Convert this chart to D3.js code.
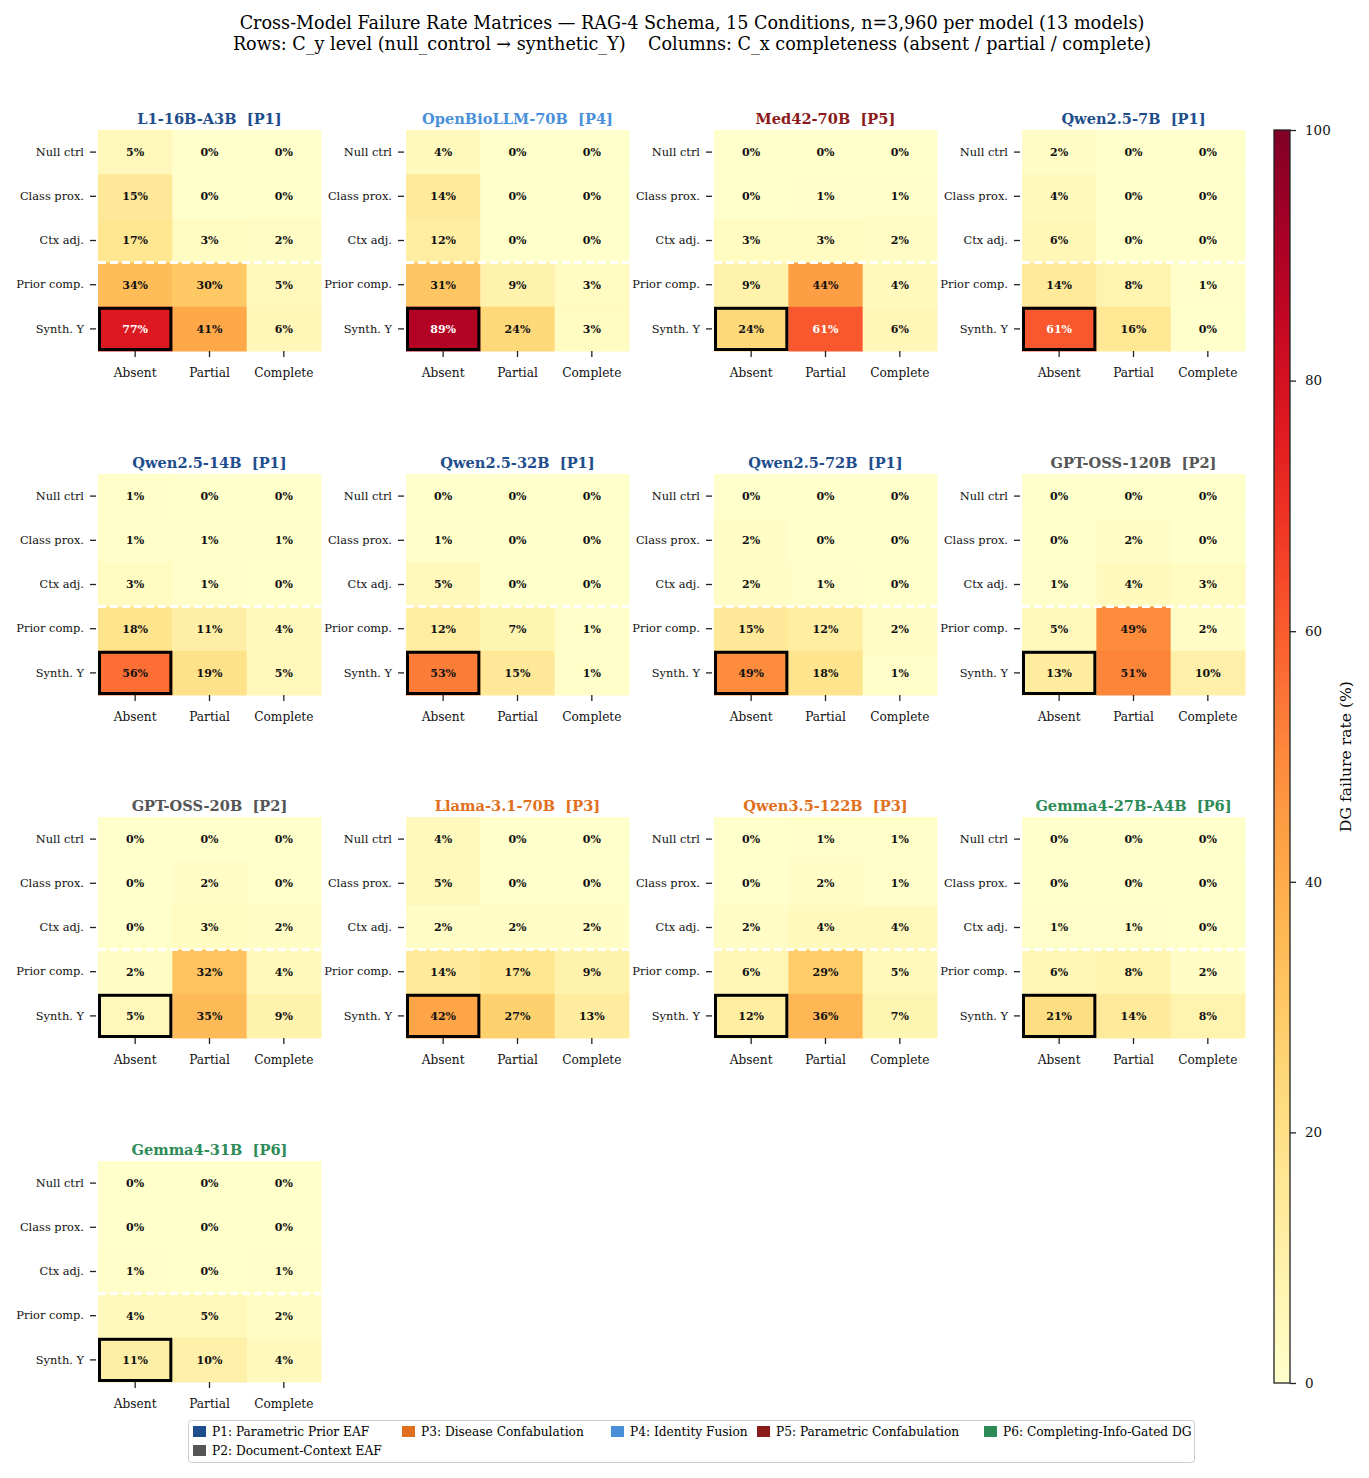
<!DOCTYPE html>
<html>
<head>
<meta charset="utf-8">
<script src="https://cdn.jsdelivr.net/npm/d3@7.9.0/dist/d3.min.js"></script>
<style>
  body { margin: 0; background: #fff; }
  svg { display: block; font-family: "DejaVu Serif", serif; }
</style>
</head>
<body>
<svg id="chart" width="1369" height="1478"></svg>
<script>
// row / column labels
const rowLabels = ['Null ctrl', 'Class prox.', 'Ctx adj.', 'Prior comp.', 'Synth. Y'];
const colLabels = ['Absent', 'Partial', 'Complete'];

// model names, pattern tags and failure matrices (%, rows x cols)
const models = [
  'L1-16B-A3B', 'OpenBioLLM-70B', 'Med42-70B', 'Qwen2.5-7B',
  'Qwen2.5-14B', 'Qwen2.5-32B', 'Qwen2.5-72B', 'GPT-OSS-120B',
  'GPT-OSS-20B', 'Llama-3.1-70B', 'Qwen3.5-122B', 'Gemma4-27B-A4B',
  'Gemma4-31B'
];
const modelPattern = ['P1', 'P4', 'P5', 'P1', 'P1', 'P1', 'P1', 'P2', 'P2', 'P3', 'P3', 'P6', 'P6'];
const matrices = [
  [[5, 0, 0], [15, 0, 0], [17, 3, 2], [34, 30, 5], [77, 41, 6]],
  [[4, 0, 0], [14, 0, 0], [12, 0, 0], [31, 9, 3], [89, 24, 3]],
  [[0, 0, 0], [0, 1, 1], [3, 3, 2], [9, 44, 4], [24, 61, 6]],
  [[2, 0, 0], [4, 0, 0], [6, 0, 0], [14, 8, 1], [61, 16, 0]],
  [[1, 0, 0], [1, 1, 1], [3, 1, 0], [18, 11, 4], [56, 19, 5]],
  [[0, 0, 0], [1, 0, 0], [5, 0, 0], [12, 7, 1], [53, 15, 1]],
  [[0, 0, 0], [2, 0, 0], [2, 1, 0], [15, 12, 2], [49, 18, 1]],
  [[0, 0, 0], [0, 2, 0], [1, 4, 3], [5, 49, 2], [13, 51, 10]],
  [[0, 0, 0], [0, 2, 0], [0, 3, 2], [2, 32, 4], [5, 35, 9]],
  [[4, 0, 0], [5, 0, 0], [2, 2, 2], [14, 17, 9], [42, 27, 13]],
  [[0, 1, 1], [0, 2, 1], [2, 4, 4], [6, 29, 5], [12, 36, 7]],
  [[0, 0, 0], [0, 0, 0], [1, 1, 0], [6, 8, 2], [21, 14, 8]],
  [[0, 0, 0], [0, 0, 0], [1, 0, 1], [4, 5, 2], [11, 10, 4]]
];

// pattern legend (column-major order as in the figure)
const patternKeys = ['P1', 'P2', 'P3', 'P4', 'P5', 'P6'];
const patternNames = [
  'P1: Parametric Prior EAF', 'P2: Document-Context EAF', 'P3: Disease Confabulation',
  'P4: Identity Fusion', 'P5: Parametric Confabulation', 'P6: Completing-Info-Gated DG'
];
const patternColors = ['#1f4e8c', '#555555', '#e07020', '#4a90d9', '#8b1a1a', '#2e8b57'];
const colorbarTicks = [0, 20, 40, 60, 80, 100];

const patternColor = d3.scaleOrdinal().domain(patternKeys).range(patternColors);
const heat = d3.scaleSequential(d3.interpolateYlOrRd).domain([0, 100]);

const svg = d3.select('#chart');

// suptitle
svg.append('text').attr('x', 692).attr('y', 29).attr('text-anchor', 'middle')
  .attr('font-size', 17.6)
  .text('Cross-Model Failure Rate Matrices \u2014 RAG-4 Schema, 15 Conditions, n=3,960 per model (13 models)');
svg.append('text').attr('x', 692).attr('y', 50).attr('text-anchor', 'middle')
  .attr('font-size', 17.6)
  .style('white-space', 'pre')
  .text('Rows: C_y level (null_control \u2192 synthetic_Y)    Columns: C_x completeness (absent / partial / complete)');

const panelW = 223, panelH = 221;
const colX = [98, 406, 714, 1022];
const rowY = [130, 474, 817, 1161];

models.forEach((name, i) => {
  const gx = colX[i % 4], gy = rowY[Math.floor(i / 4)];
  const g = svg.append('g').attr('transform', `translate(${gx},${gy})`);
  const x = d3.scaleBand().domain(colLabels).range([0, panelW]);
  const y = d3.scaleBand().domain(rowLabels).range([0, panelH]);
  const cells = [];
  matrices[i].forEach((row, r) => row.forEach((v, c) => cells.push({ r: rowLabels[r], c: colLabels[c], v })));

  g.selectAll('rect.cell').data(cells).join('rect')
    .attr('x', (d) => x(d.c)).attr('y', (d) => y(d.r))
    .attr('width', x.bandwidth() + 0.5).attr('height', y.bandwidth() + 0.5)
    .attr('fill', (d) => heat(d.v));

  g.selectAll('text.val').data(cells).join('text')
    .attr('x', (d) => x(d.c) + x.bandwidth() / 2)
    .attr('y', (d) => y(d.r) + y.bandwidth() / 2)
    .attr('dy', '0.35em').attr('text-anchor', 'middle')
    .attr('font-size', 11).attr('font-weight', 'bold')
    .attr('fill', (d) => (d.v > 60 ? '#fff' : '#111'))
    .text((d) => `${d.v}%`);

  // dashed separator between Ctx adj. and Prior comp.
  g.append('line')
    .attr('x1', 0).attr('x2', panelW)
    .attr('y1', y('Prior comp.')).attr('y2', y('Prior comp.'))
    .attr('stroke', '#fff').attr('stroke-width', 3).attr('stroke-dasharray', '8,4');

  // highlight Synth. Y / Absent
  g.append('rect')
    .attr('x', x('Absent') + 1.5).attr('y', y('Synth. Y') + 1.5)
    .attr('width', x.bandwidth() - 3).attr('height', y.bandwidth() - 3)
    .attr('fill', 'none').attr('stroke', '#000').attr('stroke-width', 3);

  const xAxis = g.append('g').attr('transform', `translate(0,${panelH})`)
    .call(d3.axisBottom(x).tickSize(6).tickPadding(11));
  xAxis.select('.domain').remove();
  xAxis.selectAll('line').attr('stroke', '#222').attr('stroke-width', 1.3);
  xAxis.selectAll('text').attr('font-size', 12.2).attr('font-family', 'DejaVu Serif').attr('fill', '#111');

  const yAxis = g.append('g').attr('transform', 'translate(-2,0)')
    .call(d3.axisLeft(y).tickSize(6).tickPadding(6));
  yAxis.select('.domain').remove();
  yAxis.selectAll('line').attr('stroke', '#222').attr('stroke-width', 1.3);
  yAxis.selectAll('text').attr('font-size', 11.4).attr('font-family', 'DejaVu Serif').attr('fill', '#111');

  g.append('text').attr('x', panelW / 2).attr('y', -6).attr('text-anchor', 'middle')
    .attr('font-size', 14.6).attr('font-weight', 'bold')
    .attr('fill', patternColor(modelPattern[i]))
    .style('white-space', 'pre')
    .text(`${name}  [${modelPattern[i]}]`);
});

// colorbar
const cbX = 1274, cbW = 16, cbTop = 130, cbBot = 1383;
const defs = svg.append('defs');
const grad = defs.append('linearGradient').attr('id', 'cbgrad')
  .attr('x1', 0).attr('y1', 1).attr('x2', 0).attr('y2', 0);
d3.range(0, 101, 5).forEach((v) => {
  grad.append('stop').attr('offset', `${v}%`).attr('stop-color', heat(v));
});
svg.append('rect').attr('x', cbX).attr('y', cbTop).attr('width', cbW).attr('height', cbBot - cbTop)
  .attr('fill', 'url(#cbgrad)').attr('stroke', '#222').attr('stroke-width', 1.3);
const cbScale = d3.scaleLinear().domain([0, 100]).range([cbBot, cbTop]);
const cbAxis = svg.append('g').attr('transform', `translate(${cbX + cbW},0)`)
  .call(d3.axisRight(cbScale).tickValues(colorbarTicks).tickSize(6).tickPadding(9));
cbAxis.select('.domain').remove();
cbAxis.selectAll('line').attr('stroke', '#222').attr('stroke-width', 1.3);
cbAxis.selectAll('text').attr('font-size', 13.5).attr('font-family', 'DejaVu Serif').attr('fill', '#111');
svg.append('text')
  .attr('transform', `translate(1351,${(cbTop + cbBot) / 2}) rotate(-90)`)
  .attr('text-anchor', 'middle').attr('font-size', 15.6)
  .text('DG failure rate (%)');

// legend
const lg = svg.append('g');
lg.append('rect').attr('x', 188.5).attr('y', 1420.5).attr('width', 1006).attr('height', 42)
  .attr('rx', 3).attr('fill', '#fff').attr('stroke', '#ccc');
const legendColX = [193, 193, 402, 611, 757, 984];
const legendRowY = [1432, 1451, 1432, 1432, 1432, 1432];
patternKeys.forEach((k, j) => {
  const it = lg.append('g').attr('transform', `translate(${legendColX[j]},${legendRowY[j]})`);
  it.append('rect').attr('x', 0).attr('y', -6).attr('width', 13).attr('height', 11)
    .attr('fill', patternColor(k));
  it.append('text').attr('x', 19).attr('y', 0).attr('dy', '0.35em')
    .attr('font-size', 12.2).text(patternNames[j]);
});
</script>
</body>
</html>
